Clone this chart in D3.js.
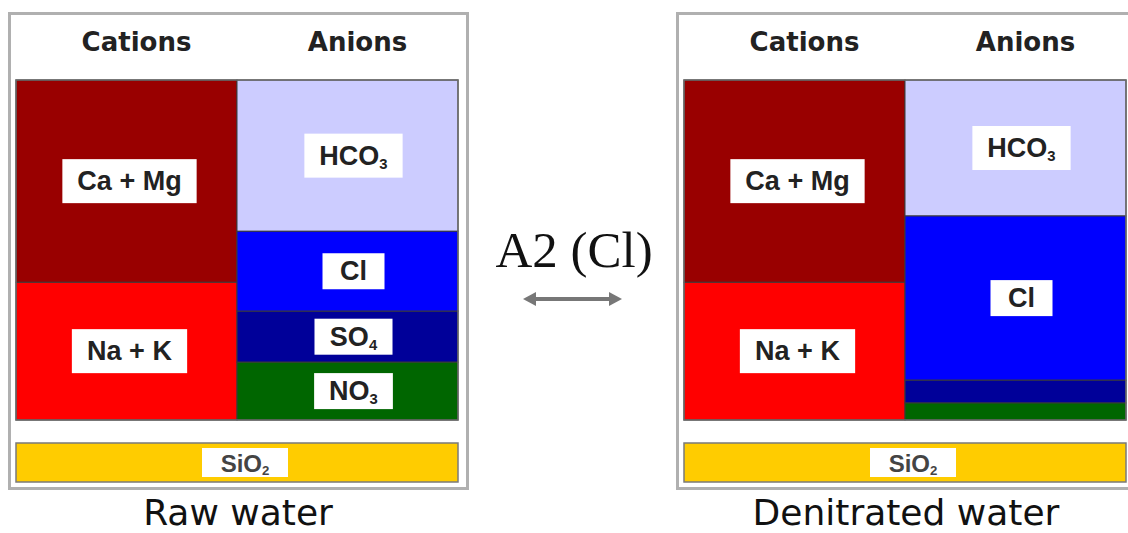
<!DOCTYPE html>
<html>
<head>
<meta charset="utf-8">
<script src="https://cdn.jsdelivr.net/npm/d3@7"></script>
<style>
  html, body { margin: 0; padding: 0; background: #fff; }
  svg { display: block; }
</style>
</head>
<body>
<svg id="chart" width="1128" height="533"></svg>
<script>
// ---------- data ----------
const panels = ["Raw water", "Denitrated water"];
const columns = ["Cations", "Anions"];
const cationNames = ["Ca + Mg", "Na + K"];
const anionNames = ["HCO3", "Cl", "SO4", "NO3"];
// equivalent share (%)
const rawCations = [59.5, 40.5];
const rawAnions = [44.5, 23.5, 15, 17];
const denCations = [59.5, 40.5];
const denAnions = [40, 48.3, 6.7, 5];
const silicaName = "SiO2";
const transferLabel = "A2 (Cl)";

// ---------- styles ----------
const colors = {
  "Ca + Mg": "#990000", "Na + K": "#ff0000",
  "HCO3": "#ccccff", "Cl": "#0000ff", "SO4": "#000099", "NO3": "#006600",
  "SiO2": "#ffcc00"
};
const labelParts = {
  "Ca + Mg": ["Ca + Mg", ""], "Na + K": ["Na + K", ""],
  "HCO3": ["HCO", "3"], "Cl": ["Cl", ""], "SO4": ["SO", "4"], "NO3": ["NO", "3"],
  "SiO2": ["SiO", "2"]
};

const svg = d3.select("#chart");
const panelOffsets = d3.scaleOrdinal().domain(panels).range([0, 668]);

const x = d3.scaleBand().domain(columns).range([16, 458]).padding(0);
const y = d3.scaleLinear().domain([0, 100]).range([80, 420]);

function stackSegments(names, values, col) {
  let acc = 0;
  return names.map((n, i) => {
    const s = { name: n, col: col, y0: acc, y1: acc + values[i] };
    acc += values[i];
    return s;
  });
}

function drawLabel(g, name, cx, cy, fontSize, boxH, minW, fill) {
  const parts = labelParts[name];
  const lg = g.append("g");
  const t = lg.append("text")
    .attr("x", cx).attr("y", cy)
    .attr("text-anchor", "middle")
    .attr("dominant-baseline", "central")
    .style("font-family", "'Liberation Sans', Arial, sans-serif")
    .style("font-weight", "bold")
    .style("font-size", fontSize + "px")
    .style("fill", fill);
  t.append("tspan").text(parts[0]);
  if (parts[1]) {
    t.append("tspan").text(parts[1])
      .attr("dy", fontSize * 0.3)
      .style("font-size", (fontSize * 0.55) + "px");
  }
  const bb = t.node().getBBox();
  const w = Math.max(minW, bb.width + 30);
  lg.insert("rect", "text")
    .attr("x", cx - w / 2).attr("y", cy - boxH / 2)
    .attr("width", w).attr("height", boxH)
    .attr("fill", "#fff");
}

const panelData = [
  { name: panels[0], cat: rawCations, an: rawAnions },
  { name: panels[1], cat: denCations, an: denAnions }
];

panelData.forEach(p => {
  const g = svg.append("g").attr("transform", `translate(${panelOffsets(p.name)},0)`);

  // outer frame
  g.append("rect")
    .attr("x", 9.5).attr("y", 13.5).attr("width", 458).attr("height", 475)
    .attr("fill", "#fff").attr("stroke", "#b0b0b0").attr("stroke-width", 3);

  // column headers
  g.selectAll("text.hdr").data(columns).join("text")
    .attr("class", "hdr")
    .attr("x", d => x(d) + x.bandwidth() / 2 + 10)
    .attr("y", 51)
    .attr("text-anchor", "middle")
    .style("font-family", "'DejaVu Sans', Verdana, sans-serif")
    .style("font-weight", "bold")
    .style("font-size", "26px")
    .style("fill", "#222")
    .text(d => d);

  const segs = stackSegments(cationNames, p.cat, "Cations")
    .concat(stackSegments(anionNames, p.an, "Anions"));

  g.selectAll("rect.seg").data(segs).join("rect")
    .attr("class", "seg")
    .attr("x", d => x(d.col))
    .attr("y", d => y(d.y0))
    .attr("width", x.bandwidth())
    .attr("height", d => y(d.y1) - y(d.y0))
    .attr("fill", d => colors[d.name])
    .attr("stroke", "#3a3a3a")
    .attr("stroke-width", 1);

  // chart outline
  g.append("rect")
    .attr("x", x.range()[0]).attr("y", y(0))
    .attr("width", x.range()[1] - x.range()[0]).attr("height", y(100) - y(0))
    .attr("fill", "none").attr("stroke", "#6b6b6b").attr("stroke-width", 1.5);

  segs.forEach(d => {
    const h = y(d.y1) - y(d.y0);
    if (h < 40) return;
    const big = d.col === "Cations" || d.name === "HCO3";
    const dx = d.col === "Cations" ? 3 : 6;
    drawLabel(g, d.name, x(d.col) + x.bandwidth() / 2 + dx, (y(d.y0) + y(d.y1)) / 2,
      27, big ? 44 : 36, 62, "#222");
  });

  // silica bar
  g.append("rect")
    .attr("x", x.range()[0]).attr("y", 443)
    .attr("width", x.range()[1] - x.range()[0]).attr("height", 39)
    .attr("fill", colors[silicaName]).attr("stroke", "#7a7a7a").attr("stroke-width", 1.5);
  drawLabel(g, silicaName, (x.range()[0] + x.range()[1]) / 2 + 8, 462.5, 24, 29, 86, "#444");

  // panel caption
  g.append("text")
    .attr("x", (x.range()[0] + x.range()[1]) / 2 + 1)
    .attr("y", 525)
    .attr("text-anchor", "middle")
    .style("font-family", "'DejaVu Sans', Verdana, sans-serif")
    .style("font-size", "36px")
    .style("fill", "#111")
    .text(p.name);
});

// middle annotation
svg.append("text")
  .attr("x", 574).attr("y", 267)
  .attr("text-anchor", "middle")
  .style("font-family", "'Liberation Serif', 'Times New Roman', serif")
  .style("font-size", "51px")
  .style("fill", "#111")
  .text(transferLabel);

const ax0 = 523, ax1 = 622, ay = 299;
svg.append("line")
  .attr("x1", ax0 + 8).attr("x2", ax1 - 8).attr("y1", ay).attr("y2", ay)
  .attr("stroke", "#777").attr("stroke-width", 4);
svg.append("path")
  .attr("d", `M${ax0},${ay} L${ax0 + 13},${ay - 7} L${ax0 + 13},${ay + 7} Z`)
  .attr("fill", "#777");
svg.append("path")
  .attr("d", `M${ax1},${ay} L${ax1 - 13},${ay - 7} L${ax1 - 13},${ay + 7} Z`)
  .attr("fill", "#777");
</script>
</body>
</html>
